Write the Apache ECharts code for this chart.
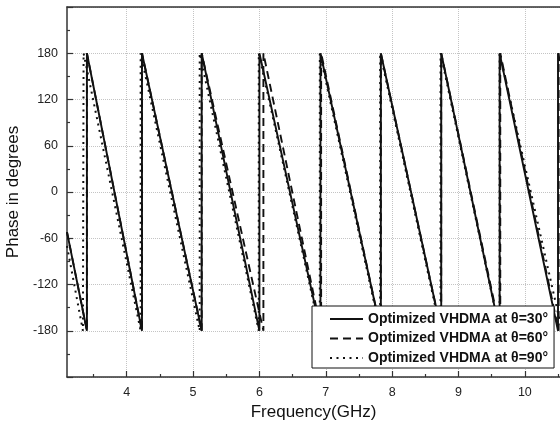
<!DOCTYPE html>
<html>
<head>
<meta charset="utf-8">
<script src="https://cdn.jsdelivr.net/npm/echarts@6/dist/echarts.min.js"></script>
<style>html,body{margin:0;padding:0;background:#fff}#c{width:560px;height:427px}</style>
</head>
<body>
<div id="c"></div>
<script>
// ---- data ----
const seriesNames = ['Optimized VHDMA at \u03b8=30\u00b0', 'Optimized VHDMA at \u03b8=60\u00b0', 'Optimized VHDMA at \u03b8=90\u00b0'];
// [frequency GHz, phase deg]
const theta30 = [[3.10,-52],[3.40,-180],[3.40,180],[4.23,-180],[4.23,180],[5.13,-180],[5.13,180],[6.00,-180],[6.00,180],[6.92,-180],[6.92,180],[7.83,-180],[7.83,180],[8.74,-180],[8.74,180],[9.62,-180],[9.62,180],[10.50,-180],[10.50,180],[10.53,170]];
const theta60 = [[3.10,-52],[3.40,-180],[3.40,180],[4.23,-180],[4.23,180],[5.13,-180],[5.13,180],[6.06,-180],[6.06,180],[6.93,-180],[6.93,180],[7.83,-180],[7.83,180],[8.74,-180],[8.74,180],[9.63,-180],[9.63,180],[10.51,-180],[10.51,180]];
const theta90 = [[3.10,-70],[3.34,-180],[3.35,180],[4.21,-180],[4.21,180],[5.10,-180],[5.10,180],[5.99,-180],[5.99,180],[6.91,-180],[6.91,180],[7.82,-180],[7.82,180],[8.73,-180],[8.73,180],[9.62,-180],[9.62,180],[10.56,-180]];
const xMajorTicks = [4,5,6,7,8,9,10];
const xMinorTicks = [3.5,4.5,5.5,6.5,7.5,8.5,9.5,10.5];
const yTickLabels = [-180,-120,-60,0,60,120,180];

const FONT = '"Liberation Sans", Arial, sans-serif';
const AX = '#333';
const xMin = 3.1, xMax = 10.53;

const chart = echarts.init(document.getElementById('c'), null, {renderer: 'canvas'});
chart.setOption({
  animation: false,
  backgroundColor: '#fff',
  grid: {left: 67, top: 7, right: 0, bottom: 50, containLabel: false, outerBoundsMode: 'none'},
  legend: {
    orient: 'vertical', left: 312, top: 306,
    padding: [6, 6, 3, 17], itemGap: 5.5, itemWidth: 33, itemHeight: 14,
    backgroundColor: '#fff', borderColor: '#111', borderWidth: 1, borderRadius: 0,
    itemStyle: {color: 'rgba(0,0,0,0)', borderColor: 'rgba(0,0,0,0)', borderWidth: 0, opacity: 0},
    textStyle: {fontFamily: FONT, fontSize: 14, fontWeight: 'bold', color: '#111', lineHeight: 14},
    data: seriesNames
  },
  xAxis: [
    {
      type: 'value', position: 'bottom', min: xMin, max: xMax,
      name: 'Frequency(GHz)', nameLocation: 'middle', nameGap: 26,
      nameTextStyle: {fontFamily: FONT, fontSize: 17, color: '#111'},
      axisLine: {show: true, onZero: false, lineStyle: {color: AX, width: 1.5}},
      axisTick: {show: true, inside: true, length: 6, customValues: xMajorTicks, lineStyle: {color: AX, width: 1.2}},
      axisLabel: {customValues: xMajorTicks, fontFamily: FONT, fontSize: 12.5, color: '#222', margin: 9},
      splitLine: {show: true, lineStyle: {color: '#c4c4c4', type: 'dotted', width: 1}}
    },
    {
      type: 'value', position: 'bottom', min: xMin, max: xMax,
      axisLine: {show: false, onZero: false},
      axisTick: {show: true, inside: true, length: 3, customValues: xMinorTicks, lineStyle: {color: AX, width: 1.2}},
      axisLabel: {show: false}, splitLine: {show: false}
    },
    {
      type: 'value', position: 'top', min: xMin, max: xMax,
      axisLine: {show: true, onZero: false, lineStyle: {color: AX, width: 1.5}},
      axisTick: {show: false}, axisLabel: {show: false}, splitLine: {show: false}
    }
  ],
  yAxis: {
    type: 'value', min: -240, max: 240, interval: 60,
    name: 'Phase in degrees', nameLocation: 'middle', nameGap: 39,
    nameTextStyle: {fontFamily: FONT, fontSize: 17, color: '#111'},
    axisLine: {show: true, onZero: false, lineStyle: {color: AX, width: 1.5}},
    axisTick: {show: true, inside: true, length: 6, lineStyle: {color: AX, width: 1.2}},
    minorTick: {show: true, splitNumber: 2, length: 3, lineStyle: {color: AX, width: 1.2}},
    axisLabel: {
      fontFamily: FONT, fontSize: 12.5, color: '#222', margin: 9,
      formatter: v => (yTickLabels.indexOf(v) >= 0 ? String(v) : '')
    },
    splitLine: {show: true, lineStyle: {color: '#c4c4c4', type: 'dotted', width: 1}}
  },
  series: [
    {name: seriesNames[0], type: 'line', data: theta30, symbol: 'none', showSymbol: false,
     lineStyle: {color: '#111', width: 1.9, type: 'solid'}, itemStyle: {color: '#111'}, z: 3},
    {name: seriesNames[1], type: 'line', data: theta60, symbol: 'none', showSymbol: false,
     lineStyle: {color: '#111', width: 1.9, type: [8, 5]}, itemStyle: {color: '#111'}, z: 2},
    {name: seriesNames[2], type: 'line', data: theta90, symbol: 'none', showSymbol: false,
     lineStyle: {color: '#111', width: 2, type: [2, 4.5]}, itemStyle: {color: '#111'}, z: 2}
  ]
});
</script>
</body>
</html>
